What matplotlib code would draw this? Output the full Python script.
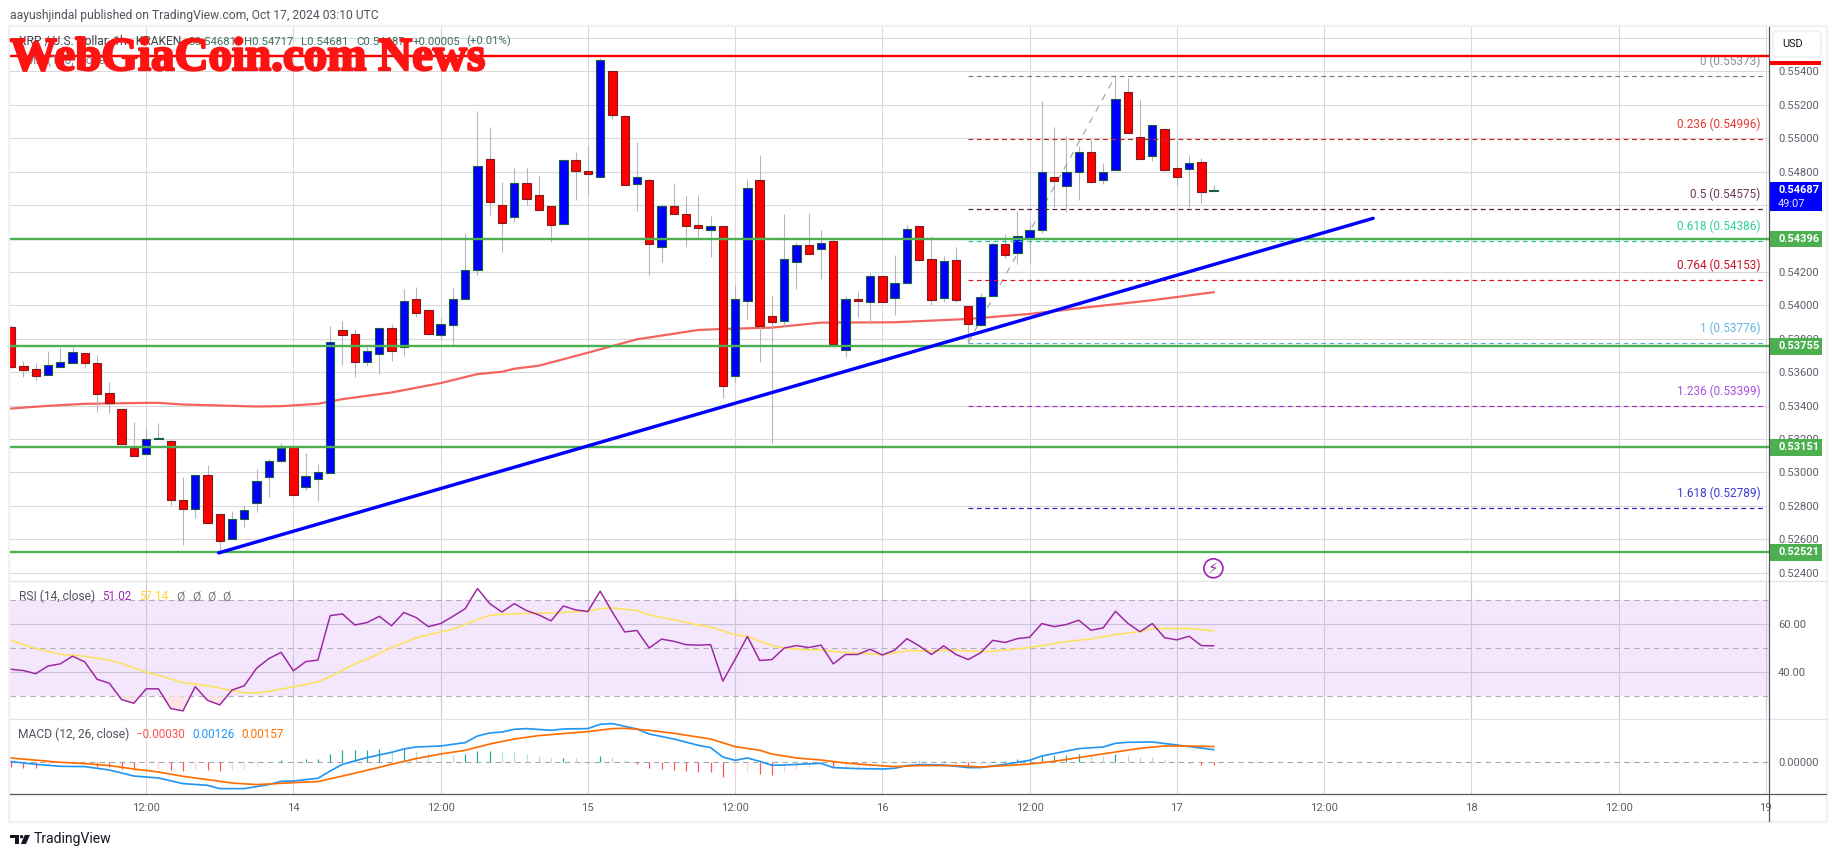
import matplotlib
matplotlib.use('Agg')
import matplotlib.pyplot as plt
import matplotlib.patheffects as pe
from matplotlib.patches import Rectangle, FancyBboxPatch, Circle, Polygon

# hourly candles, hour 0 is Oct 14 00:00
first_hour = -23
opens = [.53868, .53634, .53616, .53584, .53632, .53656, .53714, .53652, .53472, .53382,
         .53146, .5311, .532, .5319, .52836, .5278, .52986, .52752, .526, .5272,
         .52816, .52972, .53068, .5316, .52912, .5296, .52996, .5385, .53826, .53662,
         .5371, .53862, .53752, .5404, .5397, .53824, .53884, .54038, .54212, .54878,
         .54602, .54528, .54734, .54662, .54596, .54488, .54872, .54806, .5477, .55402,
         .55132, .54728, .54748, .5435, .54592, .54544, .54478, .5445, .54472, .53578,
         .54026, .54748, .53938, .53906, .5426, .54358, .54338, .54382, .53734, .5404,
         .54022, .54172, .54044, .54136, .54472, .54274, .54044, .54268, .53998, .5388,
         .54056, .54364, .54314, .544, .54452, .54766, .54716, .54796, .54916, .54748,
         .54808, .55276, .55006, .54892, .55054, .5482, .54818, .54856, .54681]
highs = [.5388, .53666, .53652, .53726, .53744, .53752, .53714, .537, .5354, .53382,
         .533, .53266, .53294, .53202, .5297, .52986, .53042, .52752, .52766, .52806,
         .53018, .53082, .53174, .5316, .53114, .5305, .53876, .53906, .53856, .53752,
         .53862, .53888, .54098, .54108, .53978, .53928, .54104, .54434, .55162, .55066,
         .54736, .5482, .5482, .54772, .54596, .54872, .54916, .54954, .55478, .55402,
         .5514, .54978, .5476, .54606, .5473, .54654, .5466, .54534, .54472, .5412,
         .54754, .549, .54054, .54546, .54378, .54552, .5445, .5439, .54054, .54084,
         .5419, .54172, .543, .54478, .54472, .54414, .54294, .54348, .53998, .54076,
         .54378, .54424, .54564, .545, .55224, .55066, .55014, .5495, .54986, .54852,
         .55374, .55362, .5523, .55078, .5506, .5499, .549, .54882, .54717]
lows = [.53622, .53572, .53552, .53584, .53632, .53656, .53624, .53362, .53356, .5317,
        .53098, .5311, .532, .52804, .52568, .52724, .52696, .5252, .526, .5267,
        .5276, .52852, .53062, .52864, .52892, .52828, .52996, .53644, .53572, .53636,
        .5359, .53668, .53698, .53928, .53822, .538, .53762, .54038, .54178, .54538,
        .54318, .54496, .54598, .5457, .54378, .54488, .54628, .54658, .5477, .55116,
        .54722, .54564, .5418, .5426, .54548, .54356, .544, .5429, .53446, .53542,
        .53918, .53662, .53176, .5387, .54096, .54308, .54156, .53748, .53692, .53928,
        .5389, .5402, .5394, .54136, .54264, .54, .5402, .5402, .53772, .53874,
        .54056, .54282, .54248, .5425, .54434, .5459, .5456, .5463, .54734, .54726,
        .54808, .55028, .54878, .54866, .54806, .54722, .5459, .54612, .54681]
closes = [.53632, .53614, .53578, .5364, .53658, .53718, .53656, .5347, .53416, .5317,
          .53098, .53202, .53202, .52834, .5278, .52986, .52696, .52588, .52722, .52776,
          .5295, .5307, .53146, .52864, .5298, .53004, .53778, .53824, .53662, .53724,
          .53862, .53728, .54024, .53956, .5383, .53886, .54038, .54212, .54836, .54618,
          .54492, .54734, .54636, .5457, .5448, .54872, .54804, .54786, .55466, .55136,
          .54722, .54766, .54368, .54592, .54548, .54476, .54464, .54472, .53518, .5404,
          .547, .53876, .539, .54274, .54358, .54308, .5437, .5377, .5404, .54026,
          .54172, .5402, .54136, .54454, .54272, .54032, .54262, .54032, .53888, .54052,
          .54364, .54302, .54412, .54448, .54796, .54746, .54796, .54916, .5474, .54796,
          .55234, .55028, .54878, .55078, .54812, .5477, .5485, .5468, .54687]

ema_hours = [-23, -20, -17, -12, -11, -9, -3, -1, 2, 4, 8, 12, 15, 17, 18, 20, 24, 28, 33, 35, 39, 43, 49, 55, 60, 66, 70, 75]
ema_values = [.53382, .53398, .5341, .53416, .53416, .53406, .53394, .53396, .5341, .53438, .53478, .53534, .53588,
              .53602, .5362, .53638, .53716, .53796, .53852, .53858, .53866, .53896, .53898, .53918, .53948, .53998, .5403, .54078]

support_levels = [.54396, .53755, .53151, .52521]
resistance_level = .55493
last_price = .54687

trend_hours = [-6.09, 88.0]
trend_prices = [.52518, .5452]

fib_ratios = ['0', '0.236', '0.5', '0.618', '0.764', '1', '1.236', '1.618']
fib_prices = [.55373, .54996, .54575, .54386, .54153, .53776, .53399, .52789]
fib_colors = ['#787b86', '#c62828', '#4a1c40', '#26c6a0', '#e8101c', '#5aa9e0', '#a32bdc', '#2222cc']
fib_text_colors = ['#8a8d96', '#e53935', '#6d3a5e', '#2fcf9f', '#c4122a', '#64b5e6', '#a94fe0', '#3a3ad0']
fib_start_hour = 55
fib_swing_hours = [55, 67]
fib_swing_prices = [.53776, .55373]

rsi_values = [41.25, 40.7, 39.4, 42.6, 43.5, 46.7, 44.3, 37.1, 35.4, 28.6,
              27.1, 33.1, 33.1, 24.9, 23.9, 34.0, 28.3, 26.4, 32.6, 34.4,
              41.7, 45.7, 48.3, 40.6, 44.4, 45.1, 63.6, 64.3, 59.7, 60.7,
              63.3, 59.4, 64.9, 62.8, 59.0, 60.3, 63.3, 66.5, 74.9, 68.6,
              65.1, 68.6, 65.7, 63.9, 61.4, 67.6, 66.0, 65.3, 73.8, 65.0,
              56.8, 57.4, 50.1, 53.8, 52.9, 51.5, 51.3, 51.5, 36.3, 45.4,
              54.9, 44.9, 45.3, 50.1, 51.1, 50.3, 51.3, 43.5, 47.4, 47.4,
              49.6, 47.2, 49.2, 54.0, 51.0, 47.4, 51.0, 47.4, 45.3, 48.1,
              53.3, 52.4, 54.0, 54.6, 60.3, 59.0, 59.9, 61.7, 57.5, 58.5,
              65.4, 60.4, 56.9, 60.3, 54.4, 53.5, 55.0, 51.1, 51.02]
rsi_ma_hours = [-23, -21, -19, -17, -15, -14, -12, -11, -9, -7, -5, -4, -3, -2, 0, 2, 3, 5, 6, 8, 10, 12, 13, 16, 18, 20, 21, 23, 24, 25,
                26, 28, 29, 31, 33, 34, 36, 37, 39, 40, 42, 43, 45, 47, 48, 50, 52, 54, 56, 57, 60, 63, 65, 67, 69, 70, 73, 75]
rsi_ma_values = [53.2, 49.9, 47.5, 46.7, 45.0, 43.6, 40.1, 38.75, 35.7, 34.4, 32.4, 31.5, 31.4, 32.1, 33.9, 36.0, 38.2, 43.5, 45.4, 50.3,
                 54.4, 56.8, 58.0, 63.75, 64.3, 64.7, 64.6, 65.3, 65.4, 66.5, 66.8, 65.7, 63.9, 61.9, 59.7, 58.9, 55.6, 54.9, 51.1, 50.1,
                 49.3, 49.3, 48.2, 47.8, 47.2, 49.0, 48.9, 49.2, 48.6, 48.75, 50.3, 52.8, 53.9, 55.7, 57.0, 58.2, 58.3, 57.14]

macd_hours = [-23, -21, -19, -17, -15, -13, -11, -9, -7, -6, -4, -2, -1, 0, 2, 3, 4, 6, 8, 9, 10, 12, 14, 15, 16, 17, 18, 19, 21, 22, 24, 25, 26,
              28, 29, 31, 33, 34, 35, 36, 37, 38, 39, 40, 43, 44, 46, 48, 49, 50, 51, 53, 55, 56, 58, 60, 61, 64, 66, 67, 68, 70, 72, 75]
macd_values = [.00007, -.0002, -.0004, -.00043, -.00077, -.00137, -.00157, -.00213, -.0023, -.00263, -.00263, -.00223, -.0019, -.00187, -.0016, -.00087, -.0002,
               .00047, .001, .00133, .00153, .00163, .00197, .00263, .00293, .00303, .0033, .00337, .0032, .00333, .00337, .0038, .00387,
               .00333, .00283, .00233, .0017, .00147, .00053, .0002, .00043, .0001, -.0003, -.00027, -.0001, -.00053, -.00063, -.00067, -.0006, -.00033, -.00023,
               -.00027, -.00053, -.00053, -.0002, .0002, .00063, .00137, .00153, .0019, .002, .00203, .00173, .00126]
signal_hours = [-23, -19, -17, -15, -13, -11, -9, -7, -5, -3, -2, 0, 2, 4, 6, 8, 10, 12, 14, 16, 18, 20, 22, 24, 26,
                27, 29, 31, 34, 36, 38, 39, 41, 43, 45, 47, 49, 51, 54, 56, 58, 60, 62, 64, 67, 69, 71, 73, 75]
signal_values = [.00043, 0, -.00013, -.00033, -.00067, -.00097, -.0014, -.00173, -.00207, -.00223, -.00217, -.00203, -.00193, -.00137, -.0008, -.0002,
                 .00037, .00083, .0012, .00183, .00233, .00267, .00287, .00307, .00337, .0034, .0032, .0029, .00233, .00157, .0012, .00083, .00043, .00023,
                 -.00007, -.00027, -.00043, -.00033, -.00033, -.00047, -.00033, -.00017, .0001, .00047, .00103, .0014, .00163, .00163, .00157]
hist_values = [-.00043, -.0006, -.00053, -.0004, -.0001, -.00017, -.00027, -.00043, -.00043, -.00067,
               -.00073, -.0002, -.00067, -.00077, -.00087, -.00073, -.00077, -.00087, -.0008, -.00063,
               -.00037, .00005, .00023, .0001, .00033, .00033, .00087, .00123, .00123, .00123,
               .00133, .001, .0013, .00113, .00093, .00073, .00073, .00083, .00113, .00113,
               .00103, .00103, .00083, .00063, .00043, .00043, .00043, .00007, .00063, .00053,
               .00023, -.00017, -.00057, -.00067, -.00077, -.00087, -.00097, -.00097, -.00147, -.00137,
               -.00097, -.00117, -.00127, -.00097, -.00067, -.00057, -.00037, -.0005, -.00057, -.00053,
               -.00043, -.00027, -.00017, .00007, .0001, .00003, .0001, -.00003, -.00027, -.00017,
               .00013, .0001, .00033, .00037, .0006, .00073, .0007, .0008, .0007, .00063,
               .00083, .00073, .00053, .00053, .00033, .0001, -.00007, -.00023, -.0003]
# p = pale bar, s = strong bar
hist_shades = ('ssspppp' 'sss'
               'sppssp' 'sspp'
               'ppspss' 'ssss'
               'spspppp' 'sss'
               'pppppsppsp'
               'pssssssssp'
               'psspppp' 'spp'
               'pppsspsssp'
               'ssssssss' 'pp'
               'spppppsss')

time_ticks = [-12, 0, 12, 24, 36, 48, 60, 72, 84, 96, 108, 120]
time_labels = ['12:00', '14', '12:00', '15', '12:00', '16', '12:00', '17', '12:00', '18', '12:00', '19']
price_ticks = [.524, .526, .528, .53, .532, .534, .536, .538, .54, .542, .544, .546, .548, .55, .552, .554, .556]
rsi_ticks = [40, 60]
rsi_levels = [30, 50, 70]

W, H = 1835, 857
LEFT, AXIS_X, RIGHT = 10, 1769, 1826
TOP, RSI_TOP, MACD_TOP, TIME_TOP, BOTTOM = 27, 581.3, 719.3, 794.3, 821

GRID = '#d9d9d9'
TICK = '#5d606b'
GREEN = '#4caf50'
PX = 0.72   # points per pixel at dpi 100
plt.rcParams['font.family'] = ['Roboto', 'DejaVu Sans']


def pane(top, bottom):
    return fig.add_axes([LEFT / W, 1 - bottom / H, (AXIS_X - LEFT) / W, (bottom - top) / H])


def style_pane(ax):
    for s in ax.spines.values():
        s.set_visible(False)
    ax.yaxis.tick_right()
    ax.tick_params(axis='both', length=0, labelsize=11.2 * PX, labelcolor=TICK, pad=6.4)
    ax.grid(True, color=GRID, lw=1.1 * PX, zorder=0)
    ax.set_axisbelow(True)


fig = plt.figure(figsize=(W / 100, H / 100), dpi=100, facecolor='white')

hours = [first_hour + i for i in range(len(closes))]
xlim = ((LEFT - 293.4) / 12.27, (AXIS_X - 293.4) / 12.27)

# main price pane
ax = pane(TOP, RSI_TOP)
style_pane(ax)
ax.set_xlim(xlim)
ax.set_ylim(.52348, .55665)
ax.set_yticks(price_ticks)
ax.set_yticklabels(['%.5f' % p for p in price_ticks])
ax.set_xticks(time_ticks)
ax.tick_params(axis='x', labelbottom=False)

ax.plot(ema_hours, ema_values, color='#f4534a', lw=2.2 * PX, alpha=.9, zorder=2)

for h, o, hi, lo, c in zip(hours, opens, highs, lows, closes):
    up = c >= o
    ax.vlines(h, lo, hi, color='#b2b5be', lw=1.1 * PX, zorder=3)
    ax.bar(h, max(abs(c - o), .00004), bottom=min(o, c), width=.68,
           color='#0000ff' if up else '#ff0000', edgecolor='#1b5e3a' if up else '#7f1d1d',
           lw=1.1 * PX, zorder=4)

ax.plot(fib_swing_hours, fib_swing_prices, color='#9a9da6', lw=1.1 * PX, ls=(0, (6, 6)), zorder=3)
for ratio, price, col, tcol in zip(fib_ratios, fib_prices, fib_colors, fib_text_colors):
    ax.plot([fib_start_hour, 119.8], [price, price], color=col, lw=1.2 * PX, ls=(0, (4, 3)), zorder=5)
    ax.annotate('%s (%.5f)' % (ratio, price), xy=(1, price), xycoords=ax.get_yaxis_transform(),
                xytext=(-8.5, 8), textcoords='offset pixels', ha='right', va='bottom',
                color=tcol, fontsize=11.8 * PX, zorder=6)

ax.axhline(resistance_level, color='#ff0000', lw=2.4 * PX, zorder=6)
for level in support_levels:
    ax.axhline(level, color=GREEN, lw=2.4 * PX, zorder=6)
ax.plot(trend_hours, trend_prices, color='#0000ff', lw=3.4 * PX, solid_capstyle='round', zorder=7)

# price tags on the scale
tag_w = (1821 - AXIS_X) / (AXIS_X - LEFT)
tag_tr = ax.get_yaxis_transform()
per_px = (.55665 - .52348) / (RSI_TOP - TOP)
for level in support_levels:
    ax.add_patch(Rectangle((1.0005, level - 8.4 * per_px), tag_w, 16.8 * per_px, transform=tag_tr,
                           fc=GREEN, ec='none', clip_on=False, zorder=8))
    ax.text(1 + 9 / (AXIS_X - LEFT), level, '%.5f' % level, transform=tag_tr, color='white',
            fontsize=11 * PX, fontweight='bold', va='center', ha='left', clip_on=False, zorder=9)
ax.add_patch(Rectangle((1.0005, last_price - 21 * per_px), tag_w, 29.5 * per_px, transform=tag_tr,
                       fc='#0000ff', ec='none', clip_on=False, zorder=8))
ax.text(1 + 9 / (AXIS_X - LEFT), last_price, '%.5f' % last_price, transform=tag_tr, color='white',
        fontsize=11 * PX, fontweight='bold', va='center', ha='left', clip_on=False, zorder=9)
ax.text(1 + 9 / (AXIS_X - LEFT), last_price - 13.4 * per_px, '49:07', transform=tag_tr, color='#dfe3ff',
        fontsize=11 * PX, va='center', ha='left', clip_on=False, zorder=9)

# RSI pane
ax_rsi = pane(RSI_TOP, MACD_TOP)
style_pane(ax_rsi)
ax_rsi.set_xlim(xlim)
ax_rsi.set_ylim(20.4, 77.9)
ax_rsi.set_yticks(rsi_ticks)
ax_rsi.set_yticklabels(['%.2f' % v for v in rsi_ticks])
ax_rsi.set_xticks(time_ticks)
ax_rsi.tick_params(axis='x', labelbottom=False)
ax_rsi.axhspan(rsi_levels[0], rsi_levels[2], color='#f4e7fd', lw=0, zorder=0.5)
for t in time_ticks:
    ax_rsi.axvline(t, color='#cfc7d8', lw=1.1 * PX, zorder=0.6)
for v in rsi_ticks:
    ax_rsi.axhline(v, color='#cdc0da', lw=1.1 * PX, zorder=0.6)
for v in rsi_levels:
    ax_rsi.axhline(v, color='#b3adb8', lw=1.1 * PX, ls=(0, (5, 4)), zorder=0.7)
ax_rsi.fill_between(hours, rsi_values, rsi_levels[0], where=[r < rsi_levels[0] for r in rsi_values],
                    interpolate=True, color='#fde3e6', lw=0, zorder=1)
ax_rsi.plot(rsi_ma_hours, rsi_ma_values, color='#fde25a', lw=1.6 * PX, zorder=2)
ax_rsi.plot(hours, rsi_values, color='#9c27a0', lw=1.5 * PX, zorder=3)

# MACD pane
ax_macd = pane(MACD_TOP, TIME_TOP)
style_pane(ax_macd)
ax_macd.set_xlim(xlim)
ax_macd.set_ylim(-.0032, .0043)
ax_macd.set_yticks([0])
ax_macd.set_yticklabels(['0.00000'])
ax_macd.yaxis.grid(False)
ax_macd.set_xticks(time_ticks)
ax_macd.set_xticklabels(time_labels)
ax_macd.axhline(0, color='#a3a6af', lw=1.1 * PX, ls=(0, (5, 4)), zorder=1)
hist_colors = []
for v, s in zip(hist_values, hist_shades):
    if v >= 0:
        hist_colors.append('#26a69a' if s == 's' else '#b2dfdb')
    else:
        hist_colors.append('#ff5252' if s == 's' else '#ffcdd2')
ax_macd.vlines(hours, 0, hist_values, colors=hist_colors, lw=1.2 * PX, zorder=2)
ax_macd.plot(macd_hours, macd_values, color='#2196f3', lw=1.7 * PX, zorder=3)
ax_macd.plot(signal_hours, signal_values, color='#ff6d00', lw=1.7 * PX, zorder=4)

# pixel overlay for frame, legends and watermark
ov = fig.add_axes([0, 0, 1, 1], zorder=20)
ov.set_xlim(0, W)
ov.set_ylim(H, 0)
ov.axis('off')
ov.patch.set_visible(False)

FRAME = '#eff1f7'
ov.add_patch(Rectangle((LEFT - 1, TOP - 1), RIGHT - LEFT + 2, BOTTOM - TOP + 2, fill=False, ec=FRAME, lw=2.2 * PX))
for y in (RSI_TOP, MACD_TOP):
    ov.plot([LEFT, RIGHT], [y, y], color='#e0e3eb', lw=1.3 * PX)
ov.plot([LEFT, RIGHT], [TIME_TOP, TIME_TOP], color='#50535e', lw=1.2 * PX)
ov.plot([AXIS_X, AXIS_X], [TOP, BOTTOM], color='#50535e', lw=1.2 * PX)


def label(x, y, s, color='#50535e', size=12, **kw):
    kw.setdefault('va', 'center')
    ov.text(x, y, s, color=color, fontsize=size * PX, **kw)


label(10, 15, 'aayushjindal published on TradingView.com, Oct 17, 2024 03:10 UTC', size=12.1)

# legend row, partly under the watermark
label(18.6, 41.7, 'XRP / U.S. Dollar, 1h · KRAKEN', color='#3d4046')
for x, s in zip([187, 243.6, 300.5, 356.7, 413, 466],
                ['O0.54681', 'H0.54717', 'L0.54681', 'C0.54687', '+0.00005', '(+0.01%)']):
    label(x, 41.7, s, color='#3f6f5f', size=11.4)
label(18.6, 60, 'EMA (100, close)', color='#787b86')

label(18.6, 596.7, 'RSI (14, close)')
label(102, 596.7, '51.02', color='#9c27b0', size=11.6)
label(139, 596.7, '57.14', color='#fdd835', size=11.6)
for x in (176, 192, 207.5, 222):
    label(x, 596.7, 'Ø', color='#787b86')

label(17.8, 734.7, 'MACD (12, 26, close)')
label(136.4, 734.7, '\u22120.00030', color='#ff5252', size=11.6)
label(192, 734.7, '0.00126', color='#2196f3', size=11.6)
label(241, 734.7, '0.00157', color='#ff6d00', size=11.6)

# USD button and the red tag under it
ov.add_patch(Rectangle((1770, 61), 51, 4, fc='#ff0000', ec='none'))
ov.add_patch(FancyBboxPatch((1775, 33), 44, 22, boxstyle='round,pad=2,rounding_size=4', fc='white', ec='#e6e8ef', lw=1.2 * PX))
label(1782, 44, 'USD', size=11, color='#131722')

# bolt mark
ov.add_patch(Circle((1213.4, 568.3), 9.5, fill=False, ec='#9c27b0', lw=1.7 * PX))
ov.text(1213.4, 568.6, '\u26a1', color='#9c27b0', fontsize=15 * PX, ha='center', va='center', family=['DejaVu Sans'])

# watermark
ov.text(10, 70, 'WebGiaCoin.com News', color='#ff1212', fontsize=47 * PX, fontweight='bold',
        family=['Liberation Serif', 'DejaVu Serif'], va='baseline', ha='left',
        path_effects=[pe.withStroke(linewidth=1.7, foreground='#ff1212')])

# TradingView mark
ov.add_patch(Polygon([(10, 835), (19, 835), (19, 844), (14.5, 844), (14.5, 838.4), (10, 838.4)], fc='#131722', ec='none'))
ov.add_patch(Circle((21.6, 836.7), 1.7, fc='#131722', ec='none'))
ov.add_patch(Polygon([(24.8, 835), (30, 835), (26, 844), (20.8, 844)], fc='#131722', ec='none'))
label(33.6, 839, 'TradingView', size=14, color='#131722')

fig.savefig('out.png', dpi=100)
